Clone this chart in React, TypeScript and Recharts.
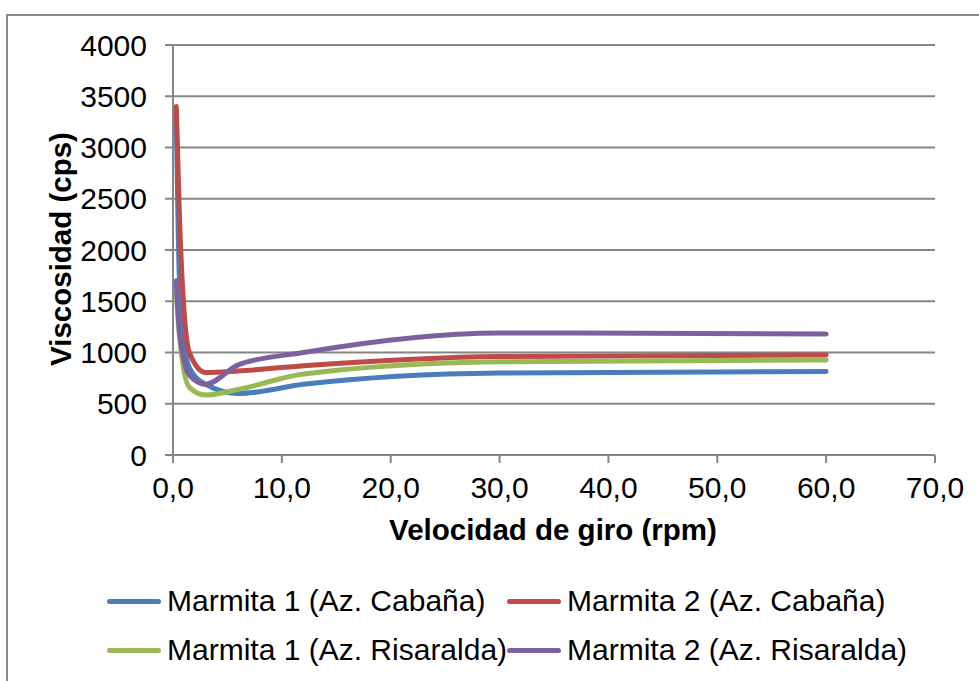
import { LineChart, Line, XAxis, YAxis, CartesianGrid } from "recharts";

const rpm = [0.3, 0.6, 1.5, 3, 6, 12, 30, 60];
const marmita1Cabana = [3350, 1700, 850, 690, 600, 690, 800, 815];
const marmita2Cabana = [3400, 2300, 1000, 805, 820, 870, 960, 975];
const marmita1Risaralda = [1600, 1150, 660, 585, 640, 790, 910, 928];
const marmita2Risaralda = [1700, 1200, 780, 690, 880, 1000, 1190, 1180];

const xTicks = [0, 10, 20, 30, 40, 50, 60, 70];
const yTicks = [0, 500, 1000, 1500, 2000, 2500, 3000, 3500, 4000];

const SERIES = [
  { key: "m1c", name: "Marmita 1 (Az. Cabaña)", color: "#4A7EBB", values: marmita1Cabana },
  { key: "m2c", name: "Marmita 2 (Az. Cabaña)", color: "#BE4B48", values: marmita2Cabana },
  { key: "m1r", name: "Marmita 1 (Az. Risaralda)", color: "#98B954", values: marmita1Risaralda },
  { key: "m2r", name: "Marmita 2 (Az. Risaralda)", color: "#7D60A0", values: marmita2Risaralda },
];

const data = rpm.map((x, i) => {
  const row: Record<string, number> = { x };
  SERIES.forEach((s) => {
    row[s.key] = s.values[i];
  });
  return row;
});

const FONT = '"Liberation Sans", Arial, sans-serif';
const GRID = "#868686";

const fmt = (v: number) => v.toFixed(1).replace(".", ",");

function LegendItem({ name, color, left, top }: { name: string; color: string; left: number; top: number }) {
  return (
    <div style={{ position: "absolute", left, top, display: "flex", alignItems: "center", whiteSpace: "nowrap" }}>
      <div style={{ width: 54, height: 5, background: color, borderRadius: 3, marginRight: 6 }} />
      <span style={{ fontSize: 30, color: "#000" }}>{name}</span>
    </div>
  );
}

export default function App() {
  return (
    <div
      style={{
        position: "absolute",
        left: 0,
        top: 0,
        width: 979,
        height: 681,
        overflow: "hidden",
        background: "#fff",
        fontFamily: FONT,
      }}
    >
      <div
        style={{
          position: "absolute",
          left: 6,
          top: 14,
          width: 1000,
          height: 700,
          border: "2px solid #8a8a8a",
        }}
      />
      <LineChart
        width={979}
        height={681}
        data={data}
        margin={{ top: 45, right: 44, left: 0, bottom: 0 }}
        style={{ position: "absolute", left: 0, top: 0 }}
      >
        <CartesianGrid vertical={false} stroke={GRID} strokeWidth={2} />
        <XAxis
          type="number"
          dataKey="x"
          domain={[0, 70]}
          ticks={xTicks}
          tickFormatter={fmt}
          height={226}
          stroke={GRID}
          strokeWidth={2}
          tickSize={8}
          tickMargin={14}
          tick={{ fill: "#000", fontSize: 30, fontFamily: FONT }}
          interval={0}
        />
        <YAxis
          type="number"
          domain={[0, 4000]}
          ticks={yTicks}
          width={173}
          stroke={GRID}
          strokeWidth={2}
          tickSize={8}
          tickMargin={18}
          tick={{ fill: "#000", fontSize: 30, fontFamily: FONT }}
          interval={0}
        />
        {SERIES.map((s) => (
          <Line
            key={s.key}
            dataKey={s.key}
            name={s.name}
            type="monotone"
            stroke={s.color}
            strokeWidth={5}
            strokeLinecap="round"
            dot={false}
            isAnimationActive={false}
          />
        ))}
      </LineChart>
      <div
        style={{
          position: "absolute",
          left: 553,
          top: 530,
          transform: "translate(-50%, -50%)",
          fontSize: 29.5,
          fontWeight: "bold",
          whiteSpace: "nowrap",
        }}
      >
        Velocidad de giro (rpm)
      </div>
      <div
        style={{
          position: "absolute",
          left: 61,
          top: 249,
          transform: "translate(-50%, -50%) rotate(-90deg)",
          fontSize: 29.5,
          fontWeight: "bold",
          whiteSpace: "nowrap",
        }}
      >
        Viscosidad (cps)
      </div>
      <LegendItem name={SERIES[0].name} color={SERIES[0].color} left={107} top={584} />
      <LegendItem name={SERIES[1].name} color={SERIES[1].color} left={507} top={584} />
      <LegendItem name={SERIES[2].name} color={SERIES[2].color} left={107} top={633} />
      <LegendItem name={SERIES[3].name} color={SERIES[3].color} left={507} top={633} />
    </div>
  );
}
